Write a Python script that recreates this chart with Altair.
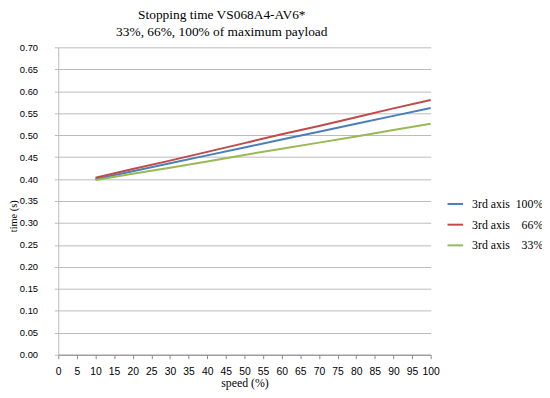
import altair as alt
import pandas as pd

speeds = [10, 20, 30, 40, 50, 60, 70, 80, 90, 100]
t100 = [0.400, 0.418, 0.436, 0.454, 0.472, 0.490, 0.508, 0.526, 0.544, 0.562]
t66 = [0.403, 0.423, 0.442, 0.462, 0.482, 0.502, 0.521, 0.541, 0.561, 0.580]
t33 = [0.398, 0.412, 0.426, 0.440, 0.455, 0.469, 0.483, 0.497, 0.512, 0.526]
series = ["3rd axis\u00a0\u00a0100%", "3rd axis\u00a0\u00a0\u00a0\u00a066%", "3rd axis\u00a0\u00a0\u00a0\u00a033%"]
colors = ["#4A7EBB", "#BE4B48", "#98B954"]
y_ticks = [0.0, 0.05, 0.1, 0.15, 0.2, 0.25, 0.3, 0.35, 0.4, 0.45, 0.5, 0.55, 0.6, 0.65, 0.7]
x_ticks = list(range(0, 101, 5))

rows = []
for name, vals in zip(series, [t100, t66, t33]):
    for s, v in zip(speeds, vals):
        rows.append({"speed": s, "time": v, "series": name})
df = pd.DataFrame(rows)

serif = "Liberation Serif"
sans = "Liberation Sans"

chart = alt.Chart(df).mark_line(strokeWidth=2).encode(
    x=alt.X("speed:Q", title="speed (%)",
            scale=alt.Scale(domain=[0, 100], nice=False),
            axis=alt.Axis(values=x_ticks, grid=False,
                          domainColor="#888888", tickColor="#888888", tickSize=4,
                          labelFont=sans, labelFontSize=10.5, labelColor="black",
                          labelPadding=8, labelFlush=False,
                          titleFont=serif, titleFontSize=12, titleFontWeight="normal",
                          titleColor="black", titlePadding=1)),
    y=alt.Y("time:Q", title="time (s)",
            scale=alt.Scale(domain=[0, 0.7001], nice=False),
            axis=alt.Axis(values=y_ticks, format=".2f",
                          grid=True, gridColor="#BBBBBB", gridWidth=1,
                          domainColor="#BBBBBB", tickColor="#BBBBBB", tickSize=4,
                          labelFont=sans, labelFontSize=9.5, labelColor="black",
                          labelPadding=17,
                          titleFont=serif, titleFontSize=10.5, titleFontWeight="normal",
                          titleColor="black", titleX=-40, titleY=171)),
    color=alt.Color("series:N", sort=series,
                    scale=alt.Scale(domain=series, range=colors),
                    legend=alt.Legend(title=None, orient="none", legendX=394, legendY=150,
                                      symbolType="stroke", symbolStrokeWidth=2, symbolSize=250,
                                      labelFont=serif, labelFontSize=12, labelColor="black",
                                      rowPadding=6, labelOffset=8, labelLimit=200)),
).properties(
    width=378, height=312,
    title=alt.TitleParams(["Stopping time VS068A4-AV6*", "33%, 66%, 100% of maximum payload"],
                          font=serif, fontSize=13.6, fontWeight="normal", color="black",
                          anchor="middle", dx=-23, offset=4, lineHeight=17),
    padding={"left": 51, "top": 37, "right": 113, "bottom": 40},
    autosize=alt.AutoSizeParams(type="none"),
).configure_view(stroke=None)

chart.save("out.html", embed_options={"renderer": "svg", "actions": False})
